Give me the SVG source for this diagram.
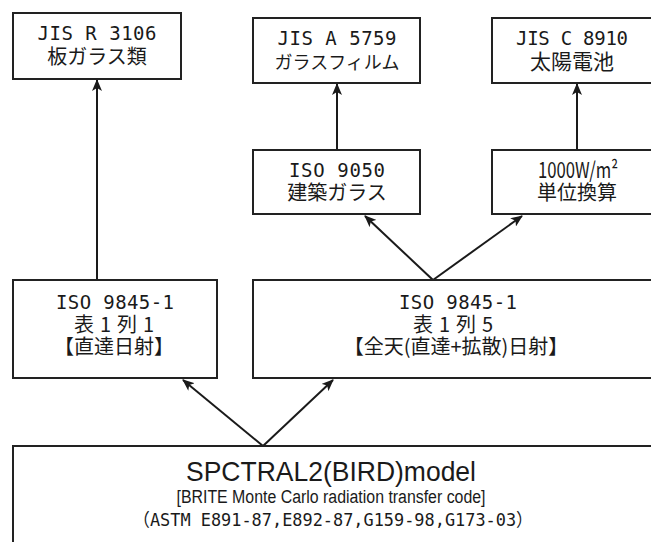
<svg xmlns="http://www.w3.org/2000/svg" width="651" height="542" viewBox="0 0 651 542">
<defs>
<style>
.box{fill:#fff;stroke:#222;stroke-width:2}
.mono{font-family:"DejaVu Sans Mono","Noto Sans CJK JP",monospace;fill:#1a1a1a;text-anchor:middle}
.jp{font-family:"Noto Sans CJK JP","Noto Sans",sans-serif;fill:#1a1a1a;text-anchor:middle}
.sans{font-family:"Liberation Sans",Arial,sans-serif;fill:#1a1a1a;text-anchor:middle}
.con{stroke:#1a1a1a;stroke-width:2;fill:none;marker-end:url(#ah)}
</style>
<marker id="ah" viewBox="0 0 12 10" refX="11" refY="5" markerWidth="12" markerHeight="10" markerUnits="userSpaceOnUse" orient="auto">
<path d="M0,0 L12,5 L0,10 L3,5 Z" fill="#1a1a1a"/>
</marker>
</defs>
<rect width="651" height="542" fill="#fff"/>
<g id="connectors">
<line class="con" x1="97" y1="280" x2="97" y2="80"/>
<line class="con" x1="337" y1="150" x2="337" y2="84"/>
<line class="con" x1="577" y1="150" x2="577" y2="84"/>
<line class="con" x1="433" y1="280" x2="365" y2="216"/>
<line class="con" x1="433" y1="280" x2="522" y2="216"/>
<line class="con" x1="263" y1="446" x2="183" y2="380"/>
<line class="con" x1="263" y1="446" x2="333" y2="380"/>
</g>
<g id="jis-r-3106">
<rect class="box" x="13" y="13" width="168" height="66"/>
<text class="mono" x="97" y="40" font-size="19" textLength="119" lengthAdjust="spacing">JIS R 3106</text>
<text class="jp" x="97" y="64" font-size="20">板ガラス類</text>
</g>
<g id="jis-a-5759">
<rect class="box" x="253" y="18" width="167" height="65"/>
<text class="mono" x="337" y="45" font-size="19" textLength="119" lengthAdjust="spacing">JIS A 5759</text>
<text class="jp" x="337" y="69" font-size="18">ガラスフィルム</text>
</g>
<g id="jis-c-8910">
<rect class="box" x="492" y="18" width="170" height="65"/>
<text class="mono" x="572" y="45" font-size="19" textLength="112" lengthAdjust="spacing">JIS C 8910</text>
<text class="jp" x="572" y="69" font-size="21">太陽電池</text>
</g>
<g id="iso-9050">
<rect class="box" x="253" y="150" width="167" height="64"/>
<text class="mono" x="337" y="177" font-size="19" textLength="96" lengthAdjust="spacing">ISO 9050</text>
<text class="jp" x="337" y="200" font-size="20">建築ガラス</text>
</g>
<g id="unit-conversion">
<rect class="box" x="492" y="150" width="170" height="64"/>
<text class="jp" x="578" y="178" font-size="22" textLength="80" lengthAdjust="spacingAndGlyphs">1000W/m²</text>
<text class="jp" x="577" y="200" font-size="20">単位換算</text>
</g>
<g id="iso-9845-col1">
<rect class="box" x="13" y="280" width="204" height="98"/>
<text class="mono" x="115" y="309" font-size="19" textLength="118" lengthAdjust="spacing">ISO 9845-1</text>
<text class="jp" x="114" y="332" font-size="20" textLength="80" lengthAdjust="spacing">表 1 列 1</text>
<text class="jp" x="114" y="354" font-size="20">【直達日射】</text>
</g>
<g id="iso-9845-col5">
<rect class="box" x="253" y="280" width="410" height="98"/>
<text class="mono" x="458" y="309" font-size="19" textLength="118" lengthAdjust="spacing">ISO 9845-1</text>
<text class="jp" x="453" y="332" font-size="20" textLength="80" lengthAdjust="spacing">表 1 列 5</text>
<text class="jp" x="456" y="354" font-size="20">【全天(直達+拡散)日射】</text>
</g>
<g id="spctral2">
<rect class="box" x="13" y="446" width="650" height="110"/>
<text class="sans" x="331" y="481" font-size="28" textLength="290" lengthAdjust="spacingAndGlyphs">SPCTRAL2(BIRD)model</text>
<text class="sans" x="331" y="503" font-size="18" textLength="309" lengthAdjust="spacingAndGlyphs">[BRITE Monte Carlo radiation transfer code]</text>
<text class="mono" x="333" y="526" font-size="18" textLength="400" lengthAdjust="spacingAndGlyphs">（ASTM E891-87,E892-87,G159-98,G173-03）</text>
</g>
</svg>
